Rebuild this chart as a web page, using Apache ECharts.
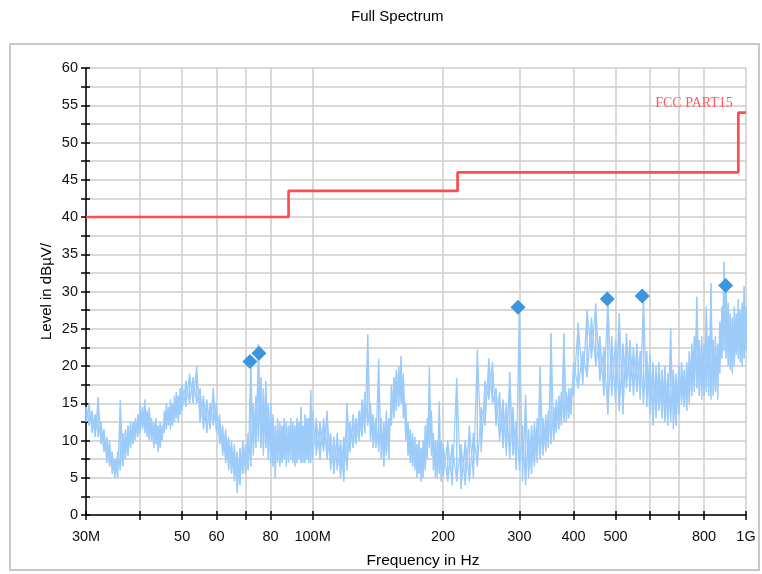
<!DOCTYPE html>
<html><head><meta charset="utf-8">
<script src="https://cdn.jsdelivr.net/npm/echarts@6/dist/echarts.min.js"></script>
<style>html,body{margin:0;padding:0;background:#fff}#c{width:762px;height:574px}</style>
</head><body><div id="c"></div>
<script>
// ---- axis ticks / labels (MHz) ----
const xTickFreq = [30,40,50,60,70,80,100,200,300,400,500,600,700,800,1000];
const xLabelFreq = [30,50,60,80,100,200,300,400,500,800,1000];
const xLabelText = ['30M','50','60','80','100M','200','300','400','500','800','1G'];

// ---- FCC Part 15 limit line ----
const limitFreq  = [30,88,88,216,216,960,960,1000];
const limitLevel = [40,40,43.5,43.5,46,46,54,54];

// ---- peak markers ----
const markerFreq  = [71.7,75.2,297.8,478.6,576,897.6];
const markerLevel = [20.6,21.7,27.9,29.0,29.4,30.8];

// ---- spectrum (per frequency column: upper and lower envelope, dBuV) ----
const specFreq = [
30,30.5,31,31.5,32,32.5,33,33.5,34,34.5,35,35.5,36,36.5,37,37.5,38,38.5,39,39.5,40,40.5,41,41.5,42,42.5,43,43.5,44,44.5,45,45.5,46,46.5,47,47.5,48,48.5,49,49.5,50,
51,52,53,54,55,56,57,58,59,60,61,62,63,64,65,66,67,68,69,70,71,72,73,74,75,76,77,78,79,80,81,82,83,84,85,86,87,88,89,90,91,92,93,94,95,96,97,98,99,100,
102,104,106,108,110,112,114,116,118,120,122,124,126,128,130,132,134,136,138,140,142,144,146,148,150,152,154,156,158,160,162,164,166,168,170,172,174,176,178,180,182,184,186,188,190,192,194,196,198,200,
205,210,215,220,225,230,235,240,245,250,255,260,265,270,275,280,285,290,295,300,305,310,315,320,325,330,335,340,345,350,355,360,365,370,375,380,385,390,395,400,
410,420,430,440,450,460,470,480,490,500,510,520,530,540,550,560,570,580,590,600,610,620,630,640,650,660,670,680,690,700,710,720,730,740,750,760,770,780,790,800,810,820,830,840,850,860,870,880,890,900,910,920,930,940,950,960,970,980,990,1000
];
const specHigh = [
14.5,15,14,13.5,15.8,12.5,11.5,10.5,10,8.5,7.5,8.5,15.4,11,11.5,12,12.5,12.5,13,13.5,15,14.5,15.5,14,14.5,13,12.5,13,12,12.5,12,14,15,14.5,15.5,15,16,16.5,16,17,17.5,
18,19,18.5,20,17,16,15.5,15,17,15,13.5,12,11.5,10.5,10,9.5,8.5,9,10,9.5,11,20.5,15,16,23,18.5,17,18,15,15,13.5,12,13,12.5,12,13,12.5,12,13,12.5,12,13,12.5,14.5,12,13.5,13,13,16.8,14,
13,12.5,13,14,11,10.5,11,10,10.5,15,12.5,13.5,13,14,15.5,16.5,24.3,15,13.5,13,21,13,12.5,14,13,17.5,18.5,19.5,20,21.3,19,15,12.5,11.5,11,10.5,9.5,10,9,10,12,13,19.8,14,11,10,10,15.2,10,9.5,
10,9.5,18.4,9.5,10,12,11,22.2,14.5,18,21,20.5,17,16.5,15.5,15,19.2,14.5,12.5,28,12,16.1,11.5,12,12.5,13,19.9,13,13.5,14,24.4,14.5,15.5,16,16.5,24.4,16.5,17,17,20.5,
25.8,22,27.5,26.5,28.4,24,22.5,29,24,23.5,27.1,23,24.4,23.5,22.5,23,22,29.4,22,21.5,20.5,20,20.5,19.5,20,19,25.1,19.5,19,20,20.5,19.5,20.5,22,23,24,29.3,23.5,24,23,28,24,31.1,23.5,24,23,26,28,34,30.8,28.5,27,26.5,28,27,29,27.5,28.5,30.7,28
];
const specLow = [
12.5,12,11,10.5,10.5,9.5,8.5,7,6.5,5.5,5,5,6,6.5,7.5,8,9,9.5,10,10.5,11,11.5,11,10.5,10,10,9,9.5,8.5,9,10,11,11.5,12,11.5,12,12.5,13,12.5,13.5,14,
14.5,15,15,15,12.5,11.5,11,11.5,12,11,9.5,8,7,6,5.5,4.5,3,4,5.5,5.5,6,6.5,8,9,10,9,8,9,7.5,7,6.5,5,7,6.5,7,7.5,6.5,7,7.5,7,6.5,7,7.5,7,7,7,7.5,7,7,7.5,
8,7.5,8.5,7.5,6,5.5,6,5,4.5,6,8.5,9,9.5,10,10.5,11,12,10,9,9,8.5,7.5,6.5,8,7.5,12,13,14,14.5,15,13,10,8,7,6.5,6,5,5.5,4.5,5,6,7.5,9,8,6,5,5,5.5,4.5,5,
4.5,4,4.5,3.5,4,4.5,5,6.5,8.5,12,15.5,15,12,10,9,8,7.5,8,6,6,4.5,4,5,5.5,6.5,7,7.5,8,8.5,9,9.5,10,11,11.5,12,12.5,12.5,13,13.5,16,
17,17.5,18.5,21,20,18,16,13.5,16,15,14,13.5,17,16.5,16,16.5,15.5,15,14.5,13.5,12,13,14,13,12.5,12,12.5,11.5,12,13.5,15,14.5,14,15,16,16.5,17,16,15.5,16,16.5,16,15.5,16,16.5,15.5,19,21,22,21,20,19.5,19,20,21.5,21,20.5,20,21,22
];

const lg = v => Math.log10(v);
// two interleavings of the same envelope columns (high-low and low-high) give the dense noisy band
const spectrumA = [], spectrumB = [];
for (let i = 0; i < specFreq.length; i++) {
  spectrumA.push([lg(specFreq[i]), specHigh[i]], [lg(specFreq[i]), specLow[i]]);
  spectrumB.push([lg(specFreq[i]), specLow[i]], [lg(specFreq[i]), specHigh[i]]);
}
const limitData = limitFreq.map((f, i) => [lg(f), limitLevel[i]]);
const markerData = markerFreq.map((f, i) => [lg(f), markerLevel[i]]);
const labelMap = {};
xLabelFreq.forEach((f, i) => { labelMap[f] = xLabelText[i]; });

const FONT = "Arial, 'Liberation Sans', sans-serif";
const xMin = lg(30), xMax = lg(1000);
const tickVals = xTickFreq.map(lg);
const labelVals = xLabelFreq.map(lg);
const specStyle = {color: '#9ccbfa', width: 1.2};

const chart = echarts.init(document.getElementById('c'), null, {renderer: 'canvas'});
chart.setOption({
  animation: false,
  backgroundColor: '#fff',
  title: {
    text: 'Full Spectrum', left: 346, top: 4,
    textStyle: {fontFamily: FONT, fontSize: 15, fontWeight: 'normal', color: '#000'}
  },
  graphic: [{
    type: 'rect', z: -1, silent: true,
    shape: {x: 10, y: 44, width: 749, height: 526},
    style: {fill: 'none', stroke: '#c8c8c8', lineWidth: 2}
  }],
  grid: {left: 86, right: 16, top: 68, bottom: 59, containLabel: false},
  xAxis: [{
    type: 'value', min: xMin, max: xMax, gridIndex: 0, position: 'bottom',
    name: 'Frequency in Hz', nameLocation: 'middle', nameGap: 38, nameMoveOverlap: false,
    nameTextStyle: {fontFamily: FONT, fontSize: 15.5, color: '#000', padding: [0, 0, 0, 14]},
    axisLine: {onZero: false, lineStyle: {color: '#000', width: 1.5}},
    axisTick: {show: true, length: 5, customValues: tickVals, lineStyle: {color: '#000', width: 1.5}},
    axisLabel: {
      customValues: labelVals, margin: 14, fontFamily: FONT, fontSize: 14.5, color: '#111',
      formatter: v => labelMap[Math.round(Math.pow(10, v))] || ''
    },
    splitLine: {show: true, lineStyle: {color: '#cccccc', width: 1.5}}
  }, {
    type: 'value', min: xMin, max: xMax, gridIndex: 0, position: 'bottom',
    axisLine: {show: false},
    axisTick: {show: true, inside: true, length: 4, customValues: tickVals, lineStyle: {color: '#000', width: 1.5}},
    axisLabel: {show: false},
    splitLine: {show: false}
  }],
  yAxis: [{
    type: 'value', min: 0, max: 60, interval: 2.5, position: 'left',
    name: 'Level in dBµV/', nameLocation: 'middle', nameGap: 32, nameRotate: 90, nameMoveOverlap: false,
    nameTextStyle: {fontFamily: FONT, fontSize: 15, color: '#000'},
    axisLine: {show: true, onZero: false, lineStyle: {color: '#000', width: 1.5}},
    axisTick: {show: true, length: 5, lineStyle: {color: '#000', width: 1.5}},
    axisLabel: {
      margin: 8, fontFamily: FONT, fontSize: 14.5, color: '#111',
      formatter: v => (Math.abs(v % 5) < 1e-9 ? String(v) : '')
    },
    splitLine: {show: true, lineStyle: {color: '#cccccc', width: 1.5}}
  }, {
    type: 'value', min: 0, max: 60, interval: 2.5, position: 'left',
    axisLine: {show: false, onZero: false},
    axisTick: {show: true, inside: true, length: 4, lineStyle: {color: '#000', width: 1.5}},
    axisLabel: {show: false},
    splitLine: {show: false}
  }],
  series: [{
    name: 'Spectrum', type: 'line', xAxisIndex: 0, yAxisIndex: 0,
    data: spectrumA, showSymbol: false, symbol: 'none', sampling: null,
    lineStyle: specStyle, z: 2, silent: true
  }, {
    name: 'Spectrum ', type: 'line', xAxisIndex: 0, yAxisIndex: 0,
    data: spectrumB, showSymbol: false, symbol: 'none', sampling: null,
    lineStyle: specStyle, z: 2, silent: true
  }, {
    name: 'FCC PART15', type: 'line', xAxisIndex: 0, yAxisIndex: 0,
    data: limitData, showSymbol: false, symbol: 'none',
    lineStyle: {color: '#ff4d4d', width: 2.7}, z: 3, silent: true,
    markPoint: {
      symbol: 'circle', symbolSize: 1, silent: true,
      itemStyle: {color: 'rgba(0,0,0,0)'},
      data: [{coord: [lg(limitFreq[6]), limitLevel[6]]}],
      label: {
        show: true, position: 'left', distance: 5, offset: [0, -9],
        formatter: 'FCC PART15', color: '#ff5a5a',
        fontFamily: "'Liberation Serif', 'DejaVu Serif', serif", fontSize: 14
      }
    }
  }, {
    name: 'Peaks', type: 'scatter', xAxisIndex: 0, yAxisIndex: 0,
    data: markerData, symbol: 'diamond', symbolSize: 15,
    itemStyle: {color: '#3a96dd', opacity: 1}, z: 4, silent: true
  }]
});
</script>
</body></html>
